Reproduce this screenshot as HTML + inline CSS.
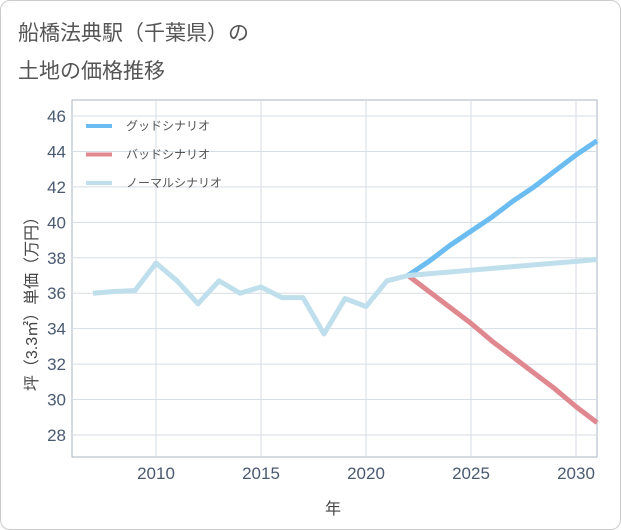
<!DOCTYPE html>
<html><head><meta charset="utf-8"><style>
body{margin:0;background:#fff;font-family:"Liberation Sans","Noto Sans CJK JP",sans-serif}
#f{position:absolute;left:0;top:0;width:619px;height:528px;border:1px solid #ccc;border-radius:10px}
</style></head><body>
<div id="f"></div>
<svg id="s" width="621" height="530" style="position:absolute;left:0;top:0" font-family="Liberation Sans, Noto Sans CJK JP, sans-serif">
<text x="18" y="40" font-size="21" fill="#555">船橋法典駅（千葉県）の</text>
<text x="18" y="78" font-size="21" fill="#555">土地の価格推移</text>
<g id="grid"></g><g id="series"></g><g id="legend"></g>
<text transform="translate(37,300) rotate(-90)" text-anchor="middle" font-size="16" fill="#444">坪（3.3㎡）単価（万円）</text>
<text x="333" y="514" text-anchor="middle" font-size="16" fill="#444">年</text>
</svg>
<script>
const histYears=[2007,2008,2009,2010,2011,2012,2013,2014,2015,2016,2017,2018,2019,2020,2021,2022];
const histValues=[36.0,36.1,36.15,37.7,36.7,35.4,36.7,36.0,36.35,35.75,35.75,33.7,35.7,35.25,36.7,37.0];
const projYears=[2022,2023,2024,2025,2026,2027,2028,2029,2030,2031];
const goodValues=[37.0,37.8,38.7,39.5,40.3,41.2,42.0,42.9,43.8,44.6];
const badValues=[37.0,36.1,35.2,34.3,33.3,32.4,31.5,30.6,29.6,28.7];
const normalValues=[37.0,37.1,37.2,37.3,37.4,37.5,37.6,37.7,37.8,37.9];
const yTicks=[28,30,32,34,36,38,40,42,44,46];
const xTicks=[2010,2015,2020,2025,2030];
const legendLabels=["グッドシナリオ","バッドシナリオ","ノーマルシナリオ"];
const NS="http://www.w3.org/2000/svg";
const L=72,R=597,T=100,B=457;
const xs=y=>156+(y-2010)*21;
const ys=v=>435-(v-28)*(319/18);
function mk(tag,attrs,parent){const e=document.createElementNS(NS,tag);for(const k in attrs)e.setAttribute(k,attrs[k]);parent.appendChild(e);return e;}
const g=document.getElementById('grid');
const bg=mk('rect',{x:L,y:T,width:R-L,height:B-T,fill:'#fff',stroke:'#aab4c0'},g);


yTicks.forEach(t=>{const l=mk('line',{x1:L,x2:R,y1:ys(t),y2:ys(t),stroke:'#d5dde6'},g);


const tx=mk('text',{x:L-6,y:ys(t)+6,'text-anchor':'end','font-size':17,fill:'#4a5a70'},g);tx.textContent=t;

});
xTicks.forEach(t=>{const l=mk('line',{x1:xs(t),x2:xs(t),y1:T,y2:B,stroke:'#d5dde6'},g);


const tx=mk('text',{x:xs(t),y:B+22,'text-anchor':'middle','font-size':17,fill:'#4a5a70'},g);tx.textContent=t;

});
const s=document.getElementById('series');
function line(xsArr,vals,color,name){const p=mk('polyline',{points:xsArr.map((y,i)=>xs(y)+','+ys(vals[i])).join(' '),fill:'none',stroke:color,'stroke-width':5,'stroke-linejoin':'round'},s);

}
const cols=['#6bbcf0','#e0888f','#bfdfec'];
line(projYears,goodValues,cols[0],'good-scenario-line');
line(projYears,badValues,cols[1],'bad-scenario-line');
line(projYears,normalValues,cols[2],'normal-scenario-line');
line(histYears,histValues,cols[2],'historical-line');
const lg=document.getElementById('legend');
legendLabels.forEach((t,i)=>{const y=126+i*28.5;
const l=mk('line',{x1:86,x2:112,y1:y,y2:y,stroke:cols[i],'stroke-width':4},lg);


const tx=mk('text',{x:126,y:y+4,'font-size':12,fill:'#555'},lg);tx.textContent=t;

});
</script>
</body></html>
